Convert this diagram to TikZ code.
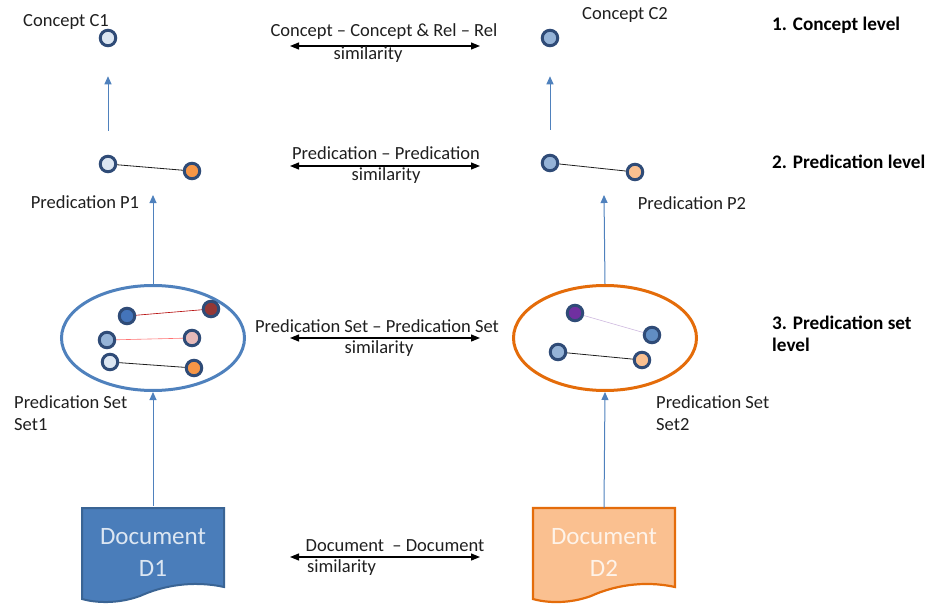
\documentclass[tikz,border=0pt]{standalone}
\usepackage{fontspec}
\setmainfont{Carlito}
\usetikzlibrary{arrows.meta,shapes.geometric}
\definecolor{rim}{HTML}{2F4B77}
\definecolor{paleblue}{HTML}{DCE6F2}
\definecolor{midblue}{HTML}{95B3D7}
\definecolor{deepblue}{HTML}{4474BA}
\definecolor{arrowblue}{HTML}{4F81BD}
\definecolor{docblue}{HTML}{4A7DBA}
\definecolor{docblueline}{HTML}{3A6494}
\definecolor{orange}{HTML}{F79646}
\definecolor{paleorange}{HTML}{FAC090}
\definecolor{darkorange}{HTML}{E46C0A}
\definecolor{darkred}{HTML}{953735}
\definecolor{pink}{HTML}{E6B9B8}
\definecolor{purple}{HTML}{7030A0}
\definecolor{textgray}{HTML}{1F1F1F}
\begin{document}
\begin{tikzpicture}[x=1pt,y=-1pt,font=\fontsize{18.5}{22.5}\selectfont,
    dot/.style={circle,draw=rim,line width=3pt,minimum size=15.5pt,inner sep=0pt},
    txt/.style={inner sep=0pt,text=textgray},
    up/.style={draw=arrowblue,line width=1pt,-{Triangle[length=8pt,width=7pt]}},
    sim/.style={draw=black,line width=1.2pt,{Triangle[length=9pt,width=7pt]}-{Triangle[length=9pt,width=7pt]}},
    lvl/.style={inner sep=0pt,anchor=west,align=left,text=black,font=\fontsize{19.2}{22}\selectfont\bfseries}]
    \useasboundingbox (0,0) rectangle (930,605);

    % left column
    \node[dot,fill=paleblue] (c1) at (108,38) {};
    \node[txt] (c1lab) at (66,22) {Concept C1};
    \node[dot,fill=paleblue] (p1a) at (108,164) {};
    \node[dot,fill=orange] (p1b) at (192,171) {};
    \draw[textgray,line width=0.8pt] (p1a) -- (p1b);
    \node[txt] (p1lab) at (85,202) {Predication P1};
    \draw[up,shorten <=24pt,shorten >=29pt] (p1a) -- (c1);

    \node[ellipse,draw=arrowblue,line width=3pt,minimum width=183pt,minimum height=105pt] (e1) at (153,338) {};
    \node[dot,fill=deepblue] (s1a) at (127,316) {};
    \node[dot,fill=darkred] (s1b) at (211,309) {};
    \node[dot,fill=midblue] (s1c) at (107,340) {};
    \node[dot,fill=pink] (s1d) at (192,338) {};
    \node[dot,fill=paleblue] (s1e) at (110,362) {};
    \node[dot,fill=orange] (s1f) at (194,368) {};
    \draw[red!70!black,line width=0.6pt] (s1a) -- (s1b);
    \draw[red!55,line width=0.6pt] (s1c) -- (s1d);
    \draw[textgray,line width=0.8pt] (s1e) -- (s1f);
    \node[txt,anchor=west,align=left] (e1lab) at (14,413) {Predication Set\\Set1};
    \coordinate (p1in) at (153,195);
    \draw[up] (e1.north) -- (p1in);

    \draw[fill=docblue,draw=docblueline,line width=2pt] (82,508) -- (224,508) -- (224,587)
        .. controls (192,580) and (162,586) .. (140,596) .. controls (118,604) and (96,603) .. (82,599) -- cycle;
    \node[inner sep=0pt,minimum width=142pt,minimum height=92pt,align=center,text=paleblue,
        font=\fontsize{25}{32}\selectfont] (d1) at (153,552) {Document\\D1};
    \draw[up] (d1.north) -- (e1.south);

    % right column
    \node[dot,fill=midblue] (c2) at (550,38) {};
    \node[txt] (c2lab) at (625,15) {Concept C2};
    \node[dot,fill=midblue] (p2a) at (550,163) {};
    \node[dot,fill=paleorange] (p2b) at (635,172) {};
    \draw[textgray,line width=0.8pt] (p2a) -- (p2b);
    \node[txt] (p2lab) at (692,203) {Predication P2};
    \draw[up,shorten <=24pt,shorten >=29pt] (p2a) -- (c2);

    \node[ellipse,draw=darkorange,line width=3pt,minimum width=183pt,minimum height=105pt] (e2) at (605,338) {};
    \node[dot,fill=purple] (s2a) at (575,313) {};
    \node[dot,fill=arrowblue!90!white] (s2b) at (652,335) {};
    \node[dot,fill=midblue] (s2c) at (558,352) {};
    \node[dot,fill=paleorange] (s2d) at (642,360) {};
    \draw[purple!35,line width=0.6pt] (s2a) -- (s2b);
    \draw[textgray,line width=0.8pt] (s2c) -- (s2d);
    \node[txt,anchor=west,align=left] (e2lab) at (656,413) {Predication Set\\Set2};
    \coordinate (p2in) at (604,195);
    \draw[up] (e2.north) -- (p2in);

    \draw[fill=paleorange,draw=darkorange,line width=2.2pt] (533,508) -- (675,508) -- (675,587)
        .. controls (643,580) and (613,586) .. (591,596) .. controls (569,604) and (547,603) .. (533,599) -- cycle;
    \node[inner sep=0pt,minimum width=142pt,minimum height=92pt,align=center,text=orange!12!white,
        font=\fontsize{25}{32}\selectfont] (d2) at (604,552) {Document\\D2};
    \draw[up] ([yshift=-2pt]d2.north) -- (e2.south);

    % similarity arrows
    \coordinate (csl) at (290,46); \coordinate (csr) at (480,46);
    \draw[sim] (csl) -- (csr);
    \node[txt] (cstop) at (384,32) {Concept -- Concept \& Rel -- Rel};
    \node[txt] (csbot) at (368,55) {similarity};

    \coordinate (psl) at (290,166); \coordinate (psr) at (480,166);
    \draw[sim] (psl) -- (psr);
    \node[txt] (pstop) at (386,153) {Predication -- Predication};
    \node[txt] (psbot) at (386,176) {similarity};

    \coordinate (ssl) at (290,338); \coordinate (ssr) at (480,338);
    \draw[sim] (ssl) -- (ssr);
    \node[txt] (sstop) at (377,326) {Predication Set -- Predication Set};
    \node[txt] (ssbot) at (379,349) {similarity};

    \coordinate (dsl) at (290,557); \coordinate (dsr) at (480,557);
    \draw[sim] (dsl) -- (dsr);
    \node[txt] (dstop) at (395,546) {Document\ \ -- Document};
    \node[txt,anchor=west] (dsbot) at (307,568) {similarity};

    % levels
    \node[lvl] (lv1) at (772,25) {1. Concept level};
    \node[lvl] (lv2) at (772,162) {2. Predication level};
    \node[lvl] (lv3) at (772,334) {3. Predication set\\level};
\end{tikzpicture}
\end{document}
